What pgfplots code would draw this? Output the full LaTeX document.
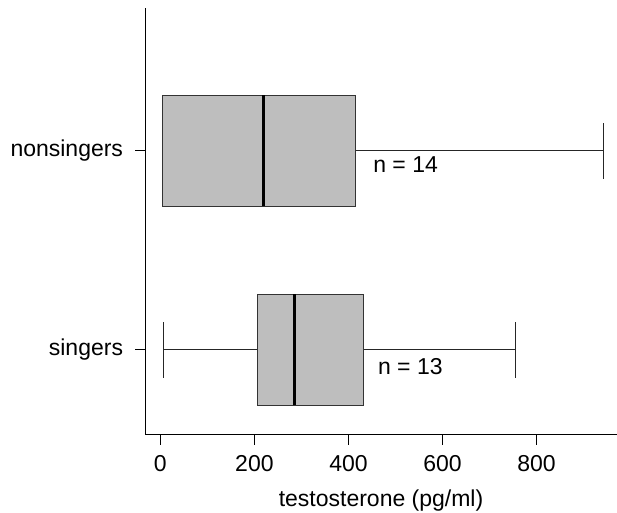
\documentclass[border=0pt]{standalone}
\usepackage{pgfplots}
\pgfplotsset{compat=1.18}
\usepgfplotslibrary{statistics}
\usepackage{fontspec}
\setmainfont{Liberation Sans}
\definecolor{boxfill}{HTML}{BEBEBE}
\begin{document}
\begin{tikzpicture}[font=\fontsize{11.5}{13.8}\selectfont]
\begin{axis}[
  scale only axis, width=236pt, height=213.5pt,
  xmin=-32.5, xmax=971, ymin=0.573, ymax=2.72,
  axis x line*=bottom, axis y line*=left,
  axis line style={line width=0.5pt, -},
  xtick={0,200,400,600,800}, ytick={1,2},
  yticklabels={singers,nonsingers},
  tick align=outside, major tick length=5pt,
  tick style={black, line width=0.5pt},
  /pgf/number format/assume math mode=true,
  xticklabel style={yshift=-2pt},
  yticklabel style={xshift=-2.5pt},
  xlabel={testosterone (pg/ml)},
  xlabel style={at={(ticklabel cs:0.5)}, yshift=-2pt},
  clip=false,
  boxplot/box extend=0.558,
  boxplot/whisker extend=0.28,
  boxplot/every median/.style={line width=1.5pt, black},
  boxplot/every box/.style={fill=boxfill, draw=black!80, line width=0.5pt},
  boxplot/every whisker/.style={black!85, line width=0.5pt},
]
\addplot+[mark=none, black, boxplot prepared={
  lower whisker=6, lower quartile=206, median=286,
  upper quartile=431, upper whisker=756, draw position=1}]
  coordinates {};
\addplot+[mark=none, black, boxplot prepared={
  lower whisker=4, lower quartile=4, median=219,
  upper quartile=416, upper whisker=943, draw position=2}]
  coordinates {};
\node[anchor=west, inner sep=0pt] at (axis cs:452,1.93) {n = 14};
\node[anchor=west, inner sep=0pt] at (axis cs:462,0.916) {n = 13};
\coordinate (bl) at (axis cs:-341,0.181);
\coordinate (tr) at (axis cs:971,2.759);
\end{axis}
\pgfresetboundingbox
\useasboundingbox (bl) rectangle (tr);
\end{tikzpicture}
\end{document}
